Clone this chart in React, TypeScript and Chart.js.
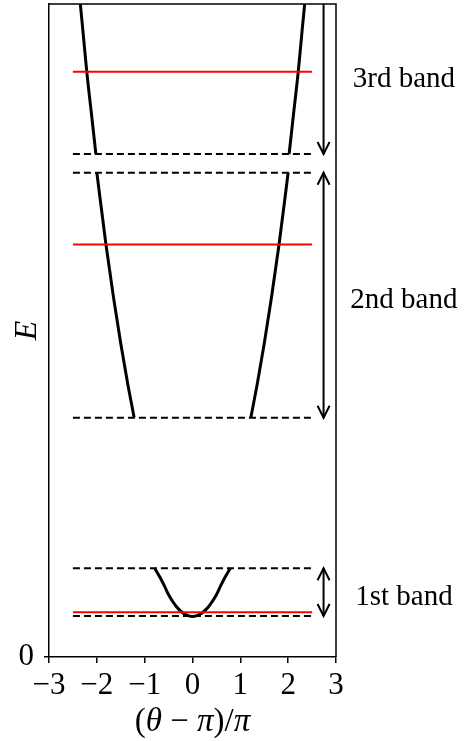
import React, { useEffect, useRef } from 'react';
import { Chart, registerables } from 'chart.js';

Chart.register(...registerables);

// Axis ranges and tick values
const X_MIN = -3;
const X_MAX = 3;
const E_MIN = 0;
const E_MAX = 15;
const xTicks = [-3, -2, -1, 0, 1, 2, 3];
const yTicks = [0];

// Dispersion curve, right half of each band: x = (θ − π)/π, energy E
const band1X = [0, 0.12, 0.23, 0.33, 0.41, 0.5, 0.58, 0.68, 0.79];
const band1E = [0.93, 0.96, 1.04, 1.15, 1.27, 1.43, 1.615, 1.83, 2.04];
const band2X = [1.22, 1.35, 1.5, 1.65, 1.81, 2.0];
const band2E = [5.5, 6.25, 7.2, 8.25, 9.48, 11.13];
const band3X = [2.02, 2.12, 2.21, 2.29, 2.345];
const band3E = [11.555, 12.55, 13.44, 14.37, 15.0];

// Band edges (dashed) and levels (red)
const bandEdgeE = [0.942, 2.038, 5.497, 11.125, 11.555];
const levelE = [1.027, 9.476, 13.443];
const hLineX = [-2.5, 2.5];

// Band annotations
const bandNames = ['1st band', '2nd band', '3rd band'];
const bandLow = [0.942, 5.497, 11.555];
const bandHigh = [2.038, 11.125, 15];
const bandHeadLow = [true, true, true];
const bandHeadHigh = [true, true, false];
const labelE = [1.38, 8.2, 13.27];
const arrowX = 2.74;
const labelX = 4.42;

const SERIF = '"Liberation Serif", "DejaVu Serif", serif';

const fmtTick = (v: number) => (v < 0 ? '\u2212' + Math.abs(v) : String(v));

function mirrored(xs: number[], es: number[]) {
  const left = xs.map((x, i) => ({ x: -x, y: es[i] })).reverse();
  const right = xs.map((x, i) => ({ x, y: es[i] }));
  return { left, right };
}

const curveStyle = {
  showLine: true,
  borderColor: '#000000',
  borderWidth: 3,
  pointRadius: 0,
  cubicInterpolationMode: 'monotone',
  fill: false,
};

function hLine(e: number, color: string, dash: number[], width: number) {
  return {
    data: hLineX.map((x) => ({ x, y: e })),
    showLine: true,
    borderColor: color,
    borderWidth: width,
    borderDash: dash,
    pointRadius: 0,
    tension: 0,
    fill: false,
  };
}

const decorations = {
  id: 'decorations',
  afterDatasetsDraw(chart: any) {
    const { ctx, chartArea, scales } = chart;
    const xs = scales.x;
    const ys = scales.y;
    ctx.save();

    // top and right frame
    ctx.strokeStyle = '#000';
    ctx.lineWidth = 1.5;
    ctx.beginPath();
    ctx.moveTo(chartArea.left, chartArea.top);
    ctx.lineTo(chartArea.right, chartArea.top);
    ctx.lineTo(chartArea.right, chartArea.bottom);
    ctx.stroke();

    // band arrows
    const ax = xs.getPixelForValue(arrowX);
    ctx.lineWidth = 2;
    ctx.lineCap = 'butt';
    const head = (x: number, tipY: number, dir: number) => {
      ctx.beginPath();
      ctx.moveTo(x - 6, tipY + dir * 12);
      ctx.lineTo(x, tipY);
      ctx.lineTo(x + 6, tipY + dir * 12);
      ctx.stroke();
    };
    bandLow.forEach((lo, i) => {
      const yLo = ys.getPixelForValue(lo);
      const yHi = ys.getPixelForValue(bandHigh[i]);
      ctx.beginPath();
      ctx.moveTo(ax, yHi);
      ctx.lineTo(ax, yLo);
      ctx.stroke();
      if (bandHeadLow[i]) head(ax, yLo, -1);
      if (bandHeadHigh[i]) head(ax, yHi, 1);
    });

    // band labels
    ctx.fillStyle = '#000';
    ctx.font = `29px ${SERIF}`;
    ctx.textAlign = 'center';
    ctx.textBaseline = 'middle';
    const lx = xs.getPixelForValue(labelX);
    bandNames.forEach((name, i) => {
      ctx.fillText(name, lx, ys.getPixelForValue(labelE[i]));
    });

    // y axis title
    ctx.save();
    ctx.translate(28, (chartArea.top + chartArea.bottom) / 2);
    ctx.rotate(-Math.PI / 2);
    ctx.font = `italic 32px ${SERIF}`;
    ctx.fillText('E', 0, 0);
    ctx.restore();

    // x axis title: (θ − π)/π
    const parts: [string, boolean][] = [
      ['(', false],
      ['\u03b8', true],
      [' \u2212 ', false],
      ['\u03c0', true],
      [')/', false],
      ['\u03c0', true],
    ];
    const fontOf = (it: boolean) => `${it ? 'italic ' : ''}33px ${SERIF}`;
    let total = 0;
    parts.forEach(([t, it]) => {
      ctx.font = fontOf(it);
      total += ctx.measureText(t).width;
    });
    let cx = (chartArea.left + chartArea.right) / 2 - total / 2;
    ctx.textAlign = 'left';
    ctx.textBaseline = 'alphabetic';
    parts.forEach(([t, it]) => {
      ctx.font = fontOf(it);
      ctx.fillText(t, cx, 731);
      cx += ctx.measureText(t).width;
    });

    ctx.restore();
  },
};

export default function App() {
  const canvasRef = useRef<HTMLCanvasElement | null>(null);

  useEffect(() => {
    const canvas = canvasRef.current;
    if (!canvas) return;

    const b1 = mirrored(band1X, band1E);
    const b2 = mirrored(band2X, band2E);
    const b3 = mirrored(band3X, band3E);

    const datasets: any[] = [
      ...bandEdgeE.map((e) => hLine(e, '#000000', [7, 4], 2)),
      ...levelE.map((e) => hLine(e, '#ff0000', [], 2)),
      { ...curveStyle, data: [...b1.left.slice(0, -1), ...b1.right] },
      { ...curveStyle, data: b2.left },
      { ...curveStyle, data: b2.right },
      { ...curveStyle, data: b3.left },
      { ...curveStyle, data: b3.right },
    ];

    const chart = new Chart(canvas, {
      type: 'scatter',
      data: { datasets },
      plugins: [decorations],
      options: {
        responsive: false,
        animation: false,
        events: [],
        layout: { padding: { left: 0, right: 130, top: 4, bottom: 0 } },
        plugins: { legend: { display: false }, tooltip: { enabled: false } },
        scales: {
          x: {
            type: 'linear',
            min: X_MIN,
            max: X_MAX,
            afterBuildTicks: (s: any) => {
              s.ticks = xTicks.map((v) => ({ value: v }));
            },
            afterFit: (s: any) => {
              s.height = 84;
              s.paddingLeft = 0;
              s.paddingRight = 0;
            },
            border: { display: true, color: '#000', width: 1.5 },
            grid: {
              display: true,
              drawOnChartArea: false,
              drawTicks: true,
              tickLength: 6,
              color: '#000',
              lineWidth: 1.5,
            },
            ticks: {
              color: '#000',
              font: { family: SERIF, size: 31 },
              padding: 4,
              maxRotation: 0,
              autoSkip: false,
              callback: (v: any) => fmtTick(Number(v)),
            },
          },
          y: {
            type: 'linear',
            min: E_MIN,
            max: E_MAX,
            afterBuildTicks: (s: any) => {
              s.ticks = yTicks.map((v) => ({ value: v }));
            },
            afterFit: (s: any) => {
              s.width = 49;
              s.paddingTop = 0;
              s.paddingBottom = 0;
            },
            border: { display: true, color: '#000', width: 1.5 },
            grid: {
              display: true,
              drawOnChartArea: false,
              drawTicks: true,
              tickLength: 5,
              color: '#000',
              lineWidth: 1.5,
            },
            ticks: {
              color: '#000',
              font: { family: SERIF, size: 31 },
              padding: 10,
              callback: (v: any) => fmtTick(Number(v)),
            },
          },
        },
      },
    });

    return () => chart.destroy();
  }, []);

  return (
    <div style={{ position: 'fixed', left: 0, top: 0, width: 466, height: 741, background: '#fff' }}>
      <canvas ref={canvasRef} width={466} height={741} style={{ display: 'block' }} />
    </div>
  );
}
